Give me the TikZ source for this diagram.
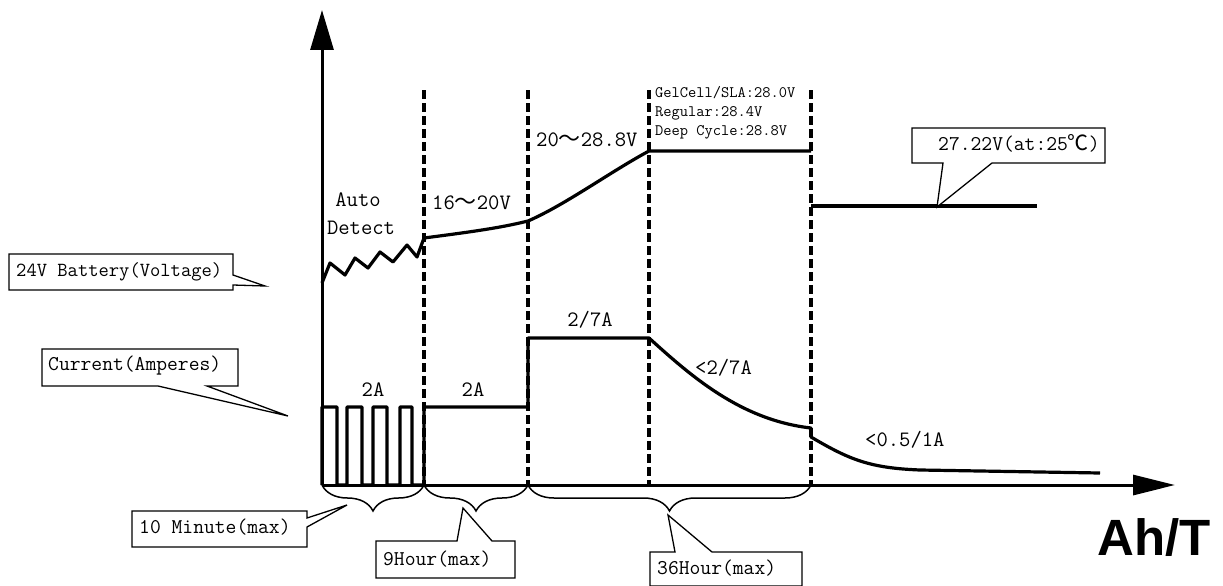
\documentclass[tikz,border=0pt]{standalone}
\usepackage{fontspec}
\newfontfamily\cjk{Noto Sans CJK SC}
\newfontfamily\arialfont{Liberation Sans}
\usetikzlibrary{arrows.meta,decorations.pathreplacing}
\tikzset{
 curve/.style={line width=3.2pt, line join=round},
 divider/.style={line width=3.5pt, dash pattern=on 9pt off 4pt},
 axisline/.style={line width=3pt},
 calloutline/.style={line width=1.3pt, fill=white, line join=miter},
 lbl/.style={font=\ttfamily\fontsize{22}{26}\selectfont, inner sep=0pt},
 boxtext/.style={font=\ttfamily\fontsize{21}{25}\selectfont, inner sep=0pt, anchor=west},
 smalltxt/.style={font=\ttfamily\fontsize{16}{19}\selectfont, inner sep=0pt, anchor=west},
 bracestyle/.style={line width=1.5pt, decorate, decoration={brace, mirror, amplitude=26pt}},
}
\begin{document}
\begin{tikzpicture}[x=1pt,y=-1pt]
\useasboundingbox[fill=white] (0,0) rectangle (1223,586);
% axes
\coordinate (O) at (322,485);
\coordinate (Ytip) at (322,10);
\coordinate (Xtip) at (1175,485);
\draw[axisline, -{Triangle[length=40pt,width=23pt]}] (O) -- (Ytip);
\draw[axisline, -{Triangle[length=42pt,width=20pt]}] (O) -- (Xtip);
% dividers
\foreach \x in {424,528,649,811} \draw[divider] (\x,90) -- (\x,485);
% voltage curve
\draw[curve] (322,283) -- (330,263) -- (345,275) -- (355,258) -- (368,268) -- (380,252) -- (393,262) -- (407,245) -- (417,257) -- (424,238)
  .. controls (470,232) and (500,228) .. (528,221)
  .. controls (565,205) and (610,172) .. (649,151) -- (811,151);
\draw[curve] (811,206) -- (1037,206);
% current curve
\draw[curve] (322,485) -- (322,407) -- (337,407) -- (337,485) -- (347,485) -- (347,407) -- (362,407) -- (362,485)
  -- (373,485) -- (373,407) -- (387,407) -- (387,485) -- (400,485) -- (400,407) -- (412,407) -- (412,485)
  -- (424,485) -- (424,407) -- (528,407) -- (528,338) -- (649,338)
  .. controls (690,375) and (740,420) .. (811,428) -- (811,437)
  .. controls (850,460) and (870,468) .. (920,470) -- (1100,473);
% braces
\draw[bracestyle] (322,485) -- (424,485);
\draw[bracestyle] (424,485) -- (528,485);
\draw[bracestyle] (528,485) -- (811,485);
% labels on curves
\node[lbl] (auto) at (358,200) {Auto};
\node[lbl] (detect) at (361,228) {Detect};
\node[lbl, anchor=west] (v1) at (432,203) {16{\cjk ～}20V};
\node[lbl, anchor=west] (v2) at (536,140) {20{\cjk ～}28.8V};
\node[smalltxt] (g1) at (655,93) {GelCell/SLA:28.0V};
\node[smalltxt] (g2) at (655,113) {Regular:28.4V};
\node[smalltxt] (g3) at (655,132) {Deep Cycle:28.8V};
\node[lbl] (a1) at (373,390) {2A};
\node[lbl] (a2) at (473,390) {2A};
\node[lbl] (a3) at (590,320) {2/7A};
\node[lbl, anchor=west] (a4) at (695,368) {<2/7A};
\node[lbl, anchor=west] (a5) at (865,440) {<0.5/1A};
% callouts
\draw[calloutline] (9,254) -- (233,254) -- (233,275) -- (265,286) -- (233,285) -- (233,290) -- (9,290) -- cycle;
\node[boxtext, font=\ttfamily\fontsize{20}{24}\selectfont] (batt) at (16,272) {24V Battery(Voltage)};
\draw[calloutline] (42,349) -- (238,349) -- (238,386) -- (207,386) -- (288,416) -- (158,386) -- (42,386) -- cycle;
\node[boxtext] (curr) at (48,366) {Current(Amperes)};
\draw[calloutline] (132,511) -- (307,511) -- (307,518) -- (347,505) -- (307,527) -- (307,547) -- (132,547) -- cycle;
\node[boxtext] (min) at (139,527) {10 Minute(max)};
\draw[calloutline] (376,541) -- (457,541) -- (463,508) -- (492,541) -- (515,541) -- (515,578) -- (376,578) -- cycle;
\node[boxtext] (h9) at (383,559) {9Hour(max)};
\draw[calloutline] (650,552) -- (675,552) -- (668,515) -- (712,552) -- (802,552) -- (802,586) -- (650,586) -- cycle;
\node[boxtext] (h36) at (657,568) {36Hour(max)};
\draw[calloutline] (912,128) -- (1105,128) -- (1105,163) -- (992,163) -- (937,207) -- (943,163) -- (912,163) -- cycle;
\node[boxtext] (float) at (938,143) {27.22V(at:25{\cjk ℃})};
% axis label
\node[font=\arialfont\bfseries\fontsize{51}{55}\selectfont, inner sep=0pt, anchor=base west] (aht) at (1097,555) {Ah/T};
\end{tikzpicture}
\end{document}
